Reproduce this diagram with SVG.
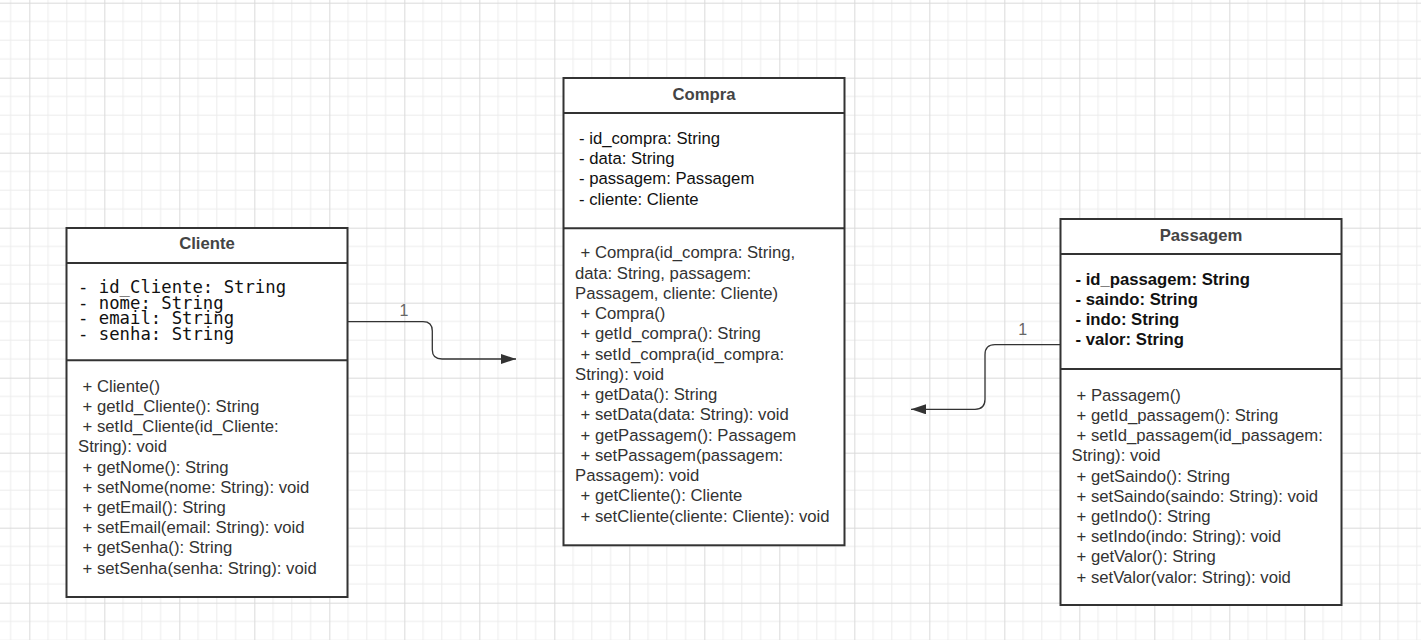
<svg xmlns="http://www.w3.org/2000/svg" width="1421" height="640" viewBox="0 0 1421 640">
  <defs>
    <pattern id="grid" x="29.33" y="2.67" width="75" height="75" patternUnits="userSpaceOnUse">
      <path d="M18.75 0V75M37.5 0V75M56.25 0V75M0 18.75H75M0 37.5H75M0 56.25H75" stroke="#ececec" stroke-width="1" fill="none"/>
      <path d="M0.5 0V75M0 0.5H75" stroke="#dadada" stroke-width="1" fill="none"/>
    </pattern>
    <marker id="arrow" markerUnits="userSpaceOnUse" markerWidth="16" markerHeight="12" refX="15" refY="5" orient="auto">
      <path d="M0,0 L15,5 L0,10 Z" fill="#333"/>
    </marker>
    <style>
      .box { fill: #fff; stroke: #333; stroke-width: 2; }
      .div { stroke: #333; stroke-width: 2; }
      .title { font-family: "Liberation Sans", Arial, sans-serif; font-size: 16.7px; font-weight: bold; fill: #444; text-anchor: middle; }
      .mono { font-family: "DejaVu Sans Mono", monospace; font-size: 17.3px; fill: #111; }
      .attr { font-family: "Liberation Sans", Arial, sans-serif; font-size: 16.7px; fill: #111; }
      .battr { font-family: "Liberation Sans", Arial, sans-serif; font-size: 16.7px; font-weight: bold; fill: #111; }
      .meth { font-family: "Liberation Sans", Arial, sans-serif; font-size: 16.7px; fill: #333; }
      .conn { fill: none; stroke: #333; stroke-width: 1.3; }
      .lbl { font-family: "Liberation Sans", Arial, sans-serif; font-size: 16px; fill: #666; text-anchor: middle; }
    </style>
  </defs>
  <rect x="0" y="0" width="1421" height="640" fill="#fff"/>
  <rect x="0" y="0" width="1421" height="640" fill="url(#grid)"/>

  <g id="connectors">
    <path class="conn" d="M348,321.7 H423 Q432.3,321.7 432.3,331 V349.7 Q432.3,359 442,359 H516" marker-end="url(#arrow)"/>
    <text class="lbl" x="404" y="315.7">1</text>
    <path class="conn" d="M1060,344.7 H995 Q985,344.7 985,354.7 V399.3 Q985,409.3 975,409.3 H911" marker-end="url(#arrow)"/>
    <text class="lbl" x="1022.7" y="334.7">1</text>
  </g>

  <g id="cliente">
    <rect class="box" x="66.5" y="228" width="281" height="369"/>
    <line class="div" x1="66.5" y1="263" x2="347.5" y2="263"/>
    <line class="div" x1="66.5" y1="360.3" x2="347.5" y2="360.3"/>
    <text class="title" x="207" y="249.3">Cliente</text>
    <text class="mono" x="78" y="292.7">- id_Cliente: String</text>
    <text class="mono" x="78" y="308.5">- nome: String</text>
    <text class="mono" x="78" y="324.3">- email: String</text>
    <text class="mono" x="78" y="340.1">- senha: String</text>
    <text class="meth" x="82.5" y="391.7">+ Cliente()</text>
    <text class="meth" x="82.5" y="411.9">+ getId_Cliente(): String</text>
    <text class="meth" x="82.5" y="432.1">+ setId_Cliente(id_Cliente:</text>
    <text class="meth" x="78" y="452.3">String): void</text>
    <text class="meth" x="82.5" y="472.5">+ getNome(): String</text>
    <text class="meth" x="82.5" y="492.7">+ setNome(nome: String): void</text>
    <text class="meth" x="82.5" y="512.9">+ getEmail(): String</text>
    <text class="meth" x="82.5" y="533.1">+ setEmail(email: String): void</text>
    <text class="meth" x="82.5" y="553.3">+ getSenha(): String</text>
    <text class="meth" x="82.5" y="573.5">+ setSenha(senha: String): void</text>
  </g>

  <g id="compra">
    <rect class="box" x="563.5" y="78" width="281" height="467.3"/>
    <line class="div" x1="563.5" y1="113" x2="844.5" y2="113"/>
    <line class="div" x1="563.5" y1="228.3" x2="844.5" y2="228.3"/>
    <text class="title" x="704" y="100">Compra</text>
    <text class="attr" x="579" y="144">- id_compra: String</text>
    <text class="attr" x="579" y="164.2">- data: String</text>
    <text class="attr" x="579" y="184.4">- passagem: Passagem</text>
    <text class="attr" x="579" y="204.6">- cliente: Cliente</text>
    <text class="meth" x="580.5" y="258.3">+ Compra(id_compra: String,</text>
    <text class="meth" x="575" y="278.5">data: String, passagem:</text>
    <text class="meth" x="575" y="298.8">Passagem, cliente: Cliente)</text>
    <text class="meth" x="580.5" y="319">+ Compra()</text>
    <text class="meth" x="580.5" y="339.3">+ getId_compra(): String</text>
    <text class="meth" x="580.5" y="359.5">+ setId_compra(id_compra:</text>
    <text class="meth" x="575" y="379.8">String): void</text>
    <text class="meth" x="580.5" y="400">+ getData(): String</text>
    <text class="meth" x="580.5" y="420.3">+ setData(data: String): void</text>
    <text class="meth" x="580.5" y="440.5">+ getPassagem(): Passagem</text>
    <text class="meth" x="580.5" y="460.8">+ setPassagem(passagem:</text>
    <text class="meth" x="575" y="481">Passagem): void</text>
    <text class="meth" x="580.5" y="501.3">+ getCliente(): Cliente</text>
    <text class="meth" x="580.5" y="521.5">+ setCliente(cliente: Cliente): void</text>
  </g>

  <g id="passagem">
    <rect class="box" x="1060.5" y="219" width="281" height="386"/>
    <line class="div" x1="1060.5" y1="254" x2="1341.5" y2="254"/>
    <line class="div" x1="1060.5" y1="369" x2="1341.5" y2="369"/>
    <text class="title" x="1201" y="241">Passagem</text>
    <text class="battr" x="1075.5" y="285">- id_passagem: String</text>
    <text class="battr" x="1075.5" y="305">- saindo: String</text>
    <text class="battr" x="1075.5" y="325">- indo: String</text>
    <text class="battr" x="1075.5" y="345">- valor: String</text>
    <text class="meth" x="1076.5" y="400.7">+ Passagem()</text>
    <text class="meth" x="1076.5" y="420.9">+ getId_passagem(): String</text>
    <text class="meth" x="1076.5" y="441.1">+ setId_passagem(id_passagem:</text>
    <text class="meth" x="1071.5" y="461.3">String): void</text>
    <text class="meth" x="1076.5" y="481.5">+ getSaindo(): String</text>
    <text class="meth" x="1076.5" y="501.7">+ setSaindo(saindo: String): void</text>
    <text class="meth" x="1076.5" y="521.9">+ getIndo(): String</text>
    <text class="meth" x="1076.5" y="542.1">+ setIndo(indo: String): void</text>
    <text class="meth" x="1076.5" y="562.3">+ getValor(): String</text>
    <text class="meth" x="1076.5" y="582.5">+ setValor(valor: String): void</text>
  </g>
</svg>
